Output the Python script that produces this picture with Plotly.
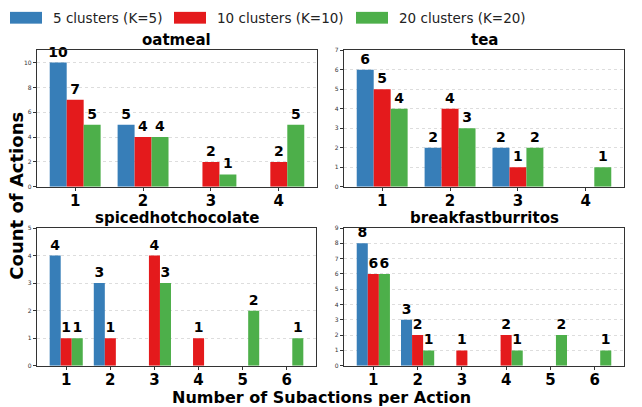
import plotly.graph_objects as go

W, H = 642, 407

series_names = ["5 clusters (K=5)", "10 clusters (K=10)", "20 clusters (K=20)"]
colors = ["#377eb8", "#e41a1c", "#4daf4a"]

titles = ["oatmeal", "tea", "spicedhotchocolate", "breakfastburritos"]

oatmeal_x = [1, 2, 3, 4]
oatmeal_k5 = [10, 5, 0, 0]
oatmeal_k10 = [7, 4, 2, 2]
oatmeal_k20 = [5, 4, 1, 5]

tea_x = [1, 2, 3, 4]
tea_k5 = [6, 2, 2, 0]
tea_k10 = [5, 4, 1, 0]
tea_k20 = [4, 3, 2, 1]

choc_x = [1, 2, 3, 4, 5, 6]
choc_k5 = [4, 3, 0, 0, 0, 0]
choc_k10 = [1, 1, 4, 1, 0, 0]
choc_k20 = [1, 0, 3, 0, 2, 1]

burr_x = [1, 2, 3, 4, 5, 6]
burr_k5 = [8, 3, 0, 0, 0, 0]
burr_k10 = [6, 2, 1, 2, 0, 0]
burr_k20 = [6, 1, 0, 1, 2, 1]

panels = [
    (oatmeal_x, [oatmeal_k5, oatmeal_k10, oatmeal_k20], 11, 2),
    (tea_x, [tea_k5, tea_k10, tea_k20], 7, 1),
    (choc_x, [choc_k5, choc_k10, choc_k20], 5, 1),
    (burr_x, [burr_k5, burr_k10, burr_k20], 9, 1),
]

# pixel boxes (left, right, top, bottom)
boxes = [(37, 317, 47, 186), (344, 624, 47, 186), (37, 316, 228, 368), (344, 624, 228, 368)]

FONT = "DejaVu Sans"
fig = go.Figure()
layout = {}
annotations = []
shapes = []

for i, ((xs, ys, ymax, dt), (l, r, t, b)) in enumerate(zip(panels, boxes)):
    n = i + 1
    xa = "x" if n == 1 else f"x{n}"
    ya = "y" if n == 1 else f"y{n}"
    for j in range(3):
        fig.add_trace(go.Bar(
            x=xs, y=ys[j], name=series_names[j], marker_color=colors[j],
            marker_line_width=0, xaxis=xa, yaxis=ya, showlegend=False,
            text=[str(v) if v > 0 else "" for v in ys[j]],
            textposition="outside", cliponaxis=False, constraintext="none",
            textfont=dict(family=FONT, size=14, color="black", weight="bold"),
        ))
    nx = len(xs)
    span = (nx + 0.375) - (1 - 0.375)
    m = span * 0.05
    xkey = "xaxis" if n == 1 else f"xaxis{n}"
    ykey = "yaxis" if n == 1 else f"yaxis{n}"
    layout[xkey] = dict(
        domain=[l / W, r / W], anchor=ya, range=[1 - 0.375 - m, nx + 0.375 + m],
        tickmode="array", tickvals=xs, ticktext=[str(v) for v in xs],
        showline=True, mirror=True, linecolor="#333", linewidth=1.2,
        ticks="outside", ticklen=3, tickcolor="#333", showgrid=False, zeroline=False,
        ticklabelstandoff=-3,
        tickfont=dict(family=FONT, size=15, color="black", weight="bold"),
    )
    layout[ykey] = dict(
        domain=[1 - b / H, 1 - t / H], anchor=xa, range=[0, ymax], dtick=dt,
        showline=True, mirror=True, linecolor="#333", linewidth=1.2,
        ticks="outside", ticklen=3, tickcolor="#333",
        showgrid=True, gridcolor="#dddddd", griddash="dot", gridwidth=1, zeroline=False,
        tickfont=dict(family=FONT, size=6, color="#333"),
    )
    annotations.append(dict(
        text=titles[i], x=(l + r) / 2 / W, y=1 - t / H, xref="paper", yref="paper",
        xanchor="center", yanchor="bottom", showarrow=False, yshift=-1,
        font=dict(family=FONT, size=15, color="black", weight="bold"),
    ))

# custom legend
leg_x = [10, 174, 356]
for j in range(3):
    shapes.append(dict(type="rect", xref="paper", yref="paper",
                       x0=leg_x[j] / W, x1=(leg_x[j] + 32) / W,
                       y0=1 - 20 / H, y1=1 - 8 / H,
                       fillcolor=colors[j], line_width=0))
    annotations.append(dict(
        text=series_names[j], x=(leg_x[j] + 41) / W, y=1 - 14 / H,
        xref="paper", yref="paper", xanchor="left", yanchor="middle", showarrow=False,
        font=dict(family=FONT, size=13.5, color="#222"),
    ))

annotations.append(dict(
    text="Number of Subactions per Action", x=321 / W, y=1 - 400 / H,
    xref="paper", yref="paper", xanchor="center", yanchor="middle", showarrow=False,
    font=dict(family=FONT, size=16, color="black", weight="bold"),
))
annotations.append(dict(
    text="Count of Actions", x=17 / W, y=1 - 195 / H, textangle=-90,
    xref="paper", yref="paper", xanchor="center", yanchor="middle", showarrow=False,
    font=dict(family=FONT, size=18, color="black", weight="bold"),
))

fig.update_layout(
    width=W, height=H, margin=dict(l=0, r=0, t=0, b=0),
    paper_bgcolor="white", plot_bgcolor="white",
    barmode="group", bargap=0.25, bargroupgap=0,
    annotations=annotations, shapes=shapes, **layout,
)

fig.write_html("out.html", config={"displayModeBar": False},
               post_script="document.body.style.margin='0';document.body.style.padding='0';")
